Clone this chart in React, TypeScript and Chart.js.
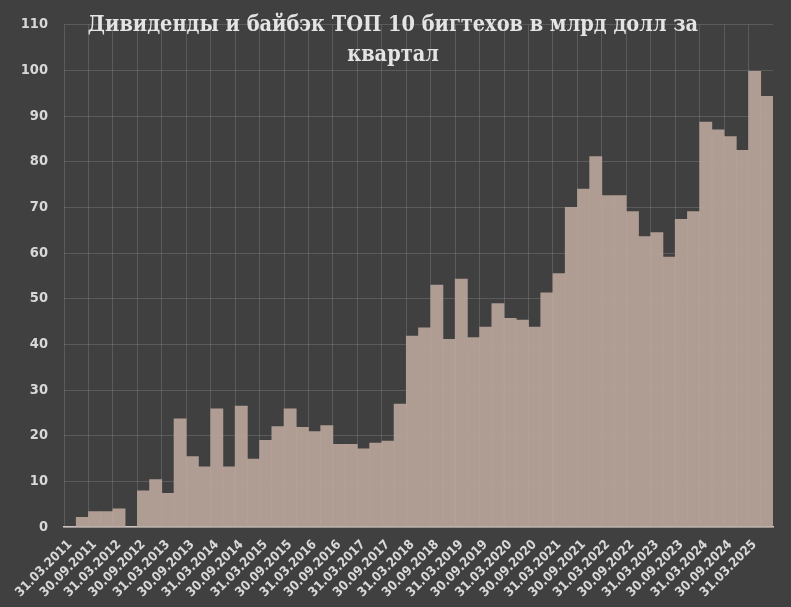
import React, { useEffect, useRef } from "react";
import { Chart, registerables } from "chart.js";

Chart.register(...registerables);

const TITLE_LINES = ["Дивиденды и байбэк ТОП 10 бигтехов в млрд долл за", "квартал"];

const categories = [
  "31.03.2011", "30.06.2011", "30.09.2011", "31.12.2011",
  "31.03.2012", "30.06.2012", "30.09.2012", "31.12.2012",
  "31.03.2013", "30.06.2013", "30.09.2013", "31.12.2013",
  "31.03.2014", "30.06.2014", "30.09.2014", "31.12.2014",
  "31.03.2015", "30.06.2015", "30.09.2015", "31.12.2015",
  "31.03.2016", "30.06.2016", "30.09.2016", "31.12.2016",
  "31.03.2017", "30.06.2017", "30.09.2017", "31.12.2017",
  "31.03.2018", "30.06.2018", "30.09.2018", "31.12.2018",
  "31.03.2019", "30.06.2019", "30.09.2019", "31.12.2019",
  "31.03.2020", "30.06.2020", "30.09.2020", "31.12.2020",
  "31.03.2021", "30.06.2021", "30.09.2021", "31.12.2021",
  "31.03.2022", "30.06.2022", "30.09.2022", "31.12.2022",
  "31.03.2023", "30.06.2023", "30.09.2023", "31.12.2023",
  "31.03.2024", "30.06.2024", "30.09.2024", "31.12.2024",
  "31.03.2025", "30.06.2025",
];

const values = [
  0, 2.1, 3.4, 3.4,
  4.0, 0, 7.9, 10.4,
  7.4, 23.7, 15.4, 13.2,
  25.9, 13.2, 26.5, 14.9,
  19.0, 22.0, 25.9, 21.8,
  20.9, 22.2, 18.1, 18.1,
  17.1, 18.4, 18.8, 26.9,
  41.8, 43.6, 53.0, 41.1,
  54.3, 41.5, 43.8, 48.9,
  45.7, 45.3, 43.8, 51.3,
  55.5, 70.0, 74.0, 81.1,
  72.6, 72.6, 69.1, 63.6,
  64.5, 59.1, 67.4, 69.1,
  88.7, 87.0, 85.5, 82.5,
  99.8, 94.3,
];

const BG = "#404040";
const GRID = "rgba(255,255,255,0.14)";
const LABEL = "#d8d8d8";
const TITLE_FONT = 'bold 21.5px "DejaVu Serif Condensed", "DejaVu Serif", serif';
const TICK_FAMILY = '"DejaVu Sans Condensed", "DejaVu Sans", sans-serif';

const titlePlugin = {
  id: "overlayTitle",
  afterDraw(chart: any) {
    const ctx = chart.ctx;
    ctx.save();
    ctx.font = TITLE_FONT;
    ctx.fillStyle = "#e4e4e4";
    ctx.textAlign = "center";
    ctx.textBaseline = "middle";
    ctx.fillText(TITLE_LINES[0], 393, 25);
    ctx.fillText(TITLE_LINES[1], 393, 55);
    ctx.restore();
  },
};

export default function App() {
  const ref = useRef<HTMLCanvasElement | null>(null);
  useEffect(() => {
    let chart: any = null;
    let cancelled = false;
    const make = () => {
      if (cancelled || !ref.current) return;
      chart = new Chart(ref.current, {
        type: "bar",
        data: {
          labels: categories,
          datasets: [
            {
              data: values,
              backgroundColor: "rgba(184,164,154,0.93)",
              borderWidth: 0,
              barPercentage: 1,
              categoryPercentage: 1,
            },
          ],
        },
        options: {
          animation: false,
          responsive: false,
          maintainAspectRatio: false,
          layout: { padding: { top: 9, right: 18, left: 0, bottom: 0 } },
          plugins: { legend: { display: false }, tooltip: { enabled: false }, title: { display: false } },
          scales: {
            x: {
              grid: {
                offset: true,
                drawTicks: false,
                color: (c: any) => (c.index % 2 === 0 ? GRID : "rgba(0,0,0,0)"),
              },
              border: { display: true, color: "#d4ccc8", width: 1.5 },
              ticks: {
                autoSkip: false,
                maxRotation: 45,
                minRotation: 45,
                padding: 10,
                color: LABEL,
                font: { family: TICK_FAMILY, weight: "bold", size: 13 },
                callback: (_v: any, i: number) => (i % 2 === 0 ? categories[i] : ""),
              },
              afterFit: (s: any) => {
                s.height = 80;
              },
            },
            y: {
              min: 0,
              max: 110,
              grid: { color: GRID, drawTicks: false },
              border: { display: false },
              ticks: {
                stepSize: 10,
                padding: 16,
                color: LABEL,
                font: { family: TICK_FAMILY, weight: "bold", size: 14.5 },
              },
              afterFit: (s: any) => {
                s.width = 64;
              },
            },
          },
        },
        plugins: [titlePlugin],
      });
    };
    const fonts: any = (document as any).fonts;
    if (fonts && fonts.load) {
      Promise.all([
        fonts.load('bold 14px "DejaVu Sans Condensed"'),
        fonts.load(TITLE_FONT, TITLE_LINES[0]),
      ])
        .catch(() => null)
        .then(make);
    } else {
      make();
    }
    return () => {
      cancelled = true;
      if (chart) chart.destroy();
    };
  }, []);
  return (
    <div style={{ position: "fixed", left: 0, top: 0, width: 791, height: 607, background: BG }}>
      <canvas ref={ref} width={791} height={607} />
    </div>
  );
}
